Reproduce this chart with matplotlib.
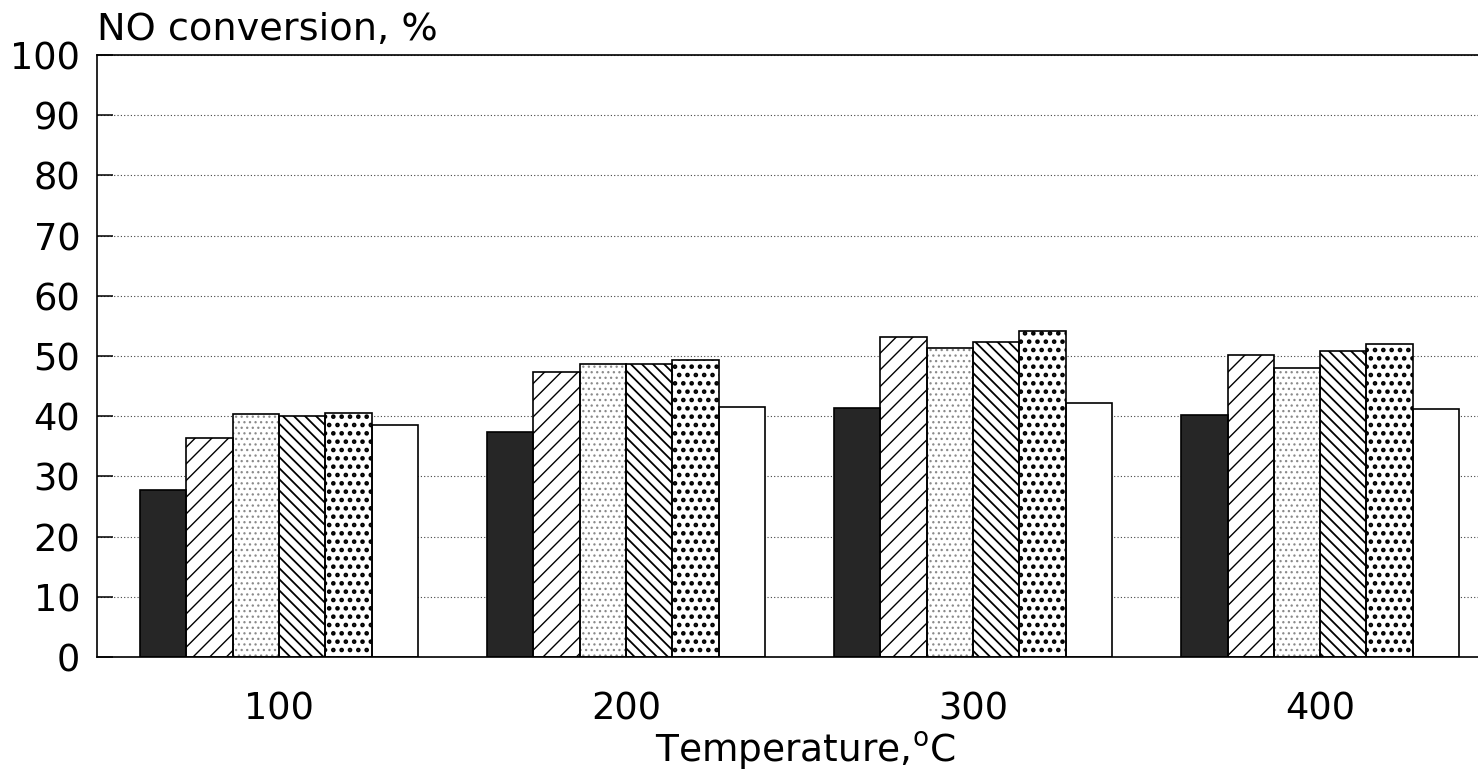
import numpy as np
import matplotlib.pyplot as plt

temps = ["100", "200", "300", "400"]

# NO conversion (%) for the six catalysts at each temperature
cat_a = [27.7, 37.4, 41.3, 40.2]   # solid dark
cat_b = [36.4, 47.3, 53.1, 50.2]   # forward hatch
cat_c = [40.4, 48.7, 51.3, 48.0]   # fine grey dots
cat_d = [40.0, 48.7, 52.4, 50.8]   # back hatch
cat_e = [40.5, 49.3, 54.2, 52.0]   # bold dots
cat_f = [38.6, 41.6, 42.2, 41.2]   # open

series = [cat_a, cat_b, cat_c, cat_d, cat_e, cat_f]
styles = [
    dict(color="#262626", hatch=None, hcol="#262626", hlw=1.0),
    dict(color="white", hatch="//", hcol="black", hlw=1.0),
    dict(color="white", hatch="...", hcol="#8a8a8a", hlw=0.9),
    dict(color="white", hatch="\\\\\\", hcol="black", hlw=1.3),
    dict(color="white", hatch="..", hcol="black", hlw=2.1),
    dict(color="white", hatch=None, hcol="black", hlw=1.0),
]

W, H = 1478, 774
fig = plt.figure(figsize=(W / 100, H / 100), dpi=100)
ax = fig.add_axes([97 / W, (H - 657) / H, (W - 97) / W, 602 / H])

x = np.arange(len(temps))
width = 0.1334
for i, (vals, st) in enumerate(zip(series, styles)):
    pos = x + (i - 2.5) * width
    # pattern layer (hatch drawn in its own colour), then the black outline
    with plt.rc_context({"hatch.linewidth": st["hlw"]}):
        bars = ax.bar(pos, vals, width, color=st["color"], edgecolor=st["hcol"],
                      hatch=st["hatch"], linewidth=0, zorder=2)
    for b in bars:
        if hasattr(b, "set_hatch_linewidth"):
            b.set_hatch_linewidth(st["hlw"])
    ax.bar(pos, vals, width, facecolor="none", edgecolor="black",
           linewidth=1.2, zorder=3)

ax.set_xlim(-0.5245, 3.455)
ax.set_ylim(0, 100)
ax.set_yticks(np.arange(0, 101, 10))
ax.set_xticks(x)
ax.set_xticklabels(temps)

ax.yaxis.grid(True, linestyle=(0, (1, 2)), color="#444444", linewidth=0.8)
ax.set_axisbelow(True)
ax.spines["right"].set_visible(False)
for s in ("left", "bottom", "top"):
    ax.spines[s].set_linewidth(1.2)

ax.tick_params(axis="y", direction="in", length=11.5, width=1.1,
               labelsize=26.5, pad=12)
ax.tick_params(axis="x", length=0, labelsize=26.5, pad=24)

fig.text(97 / W, 1 - 40 / H, "NO conversion, %", fontsize=27.5,
         ha="left", va="baseline")
fig.text(805 / W, 1 - 762 / H, r"Temperature,$^{\rm o}$C", fontsize=27,
         ha="center", va="baseline")

fig.savefig("out.png", dpi=100, facecolor="white")
